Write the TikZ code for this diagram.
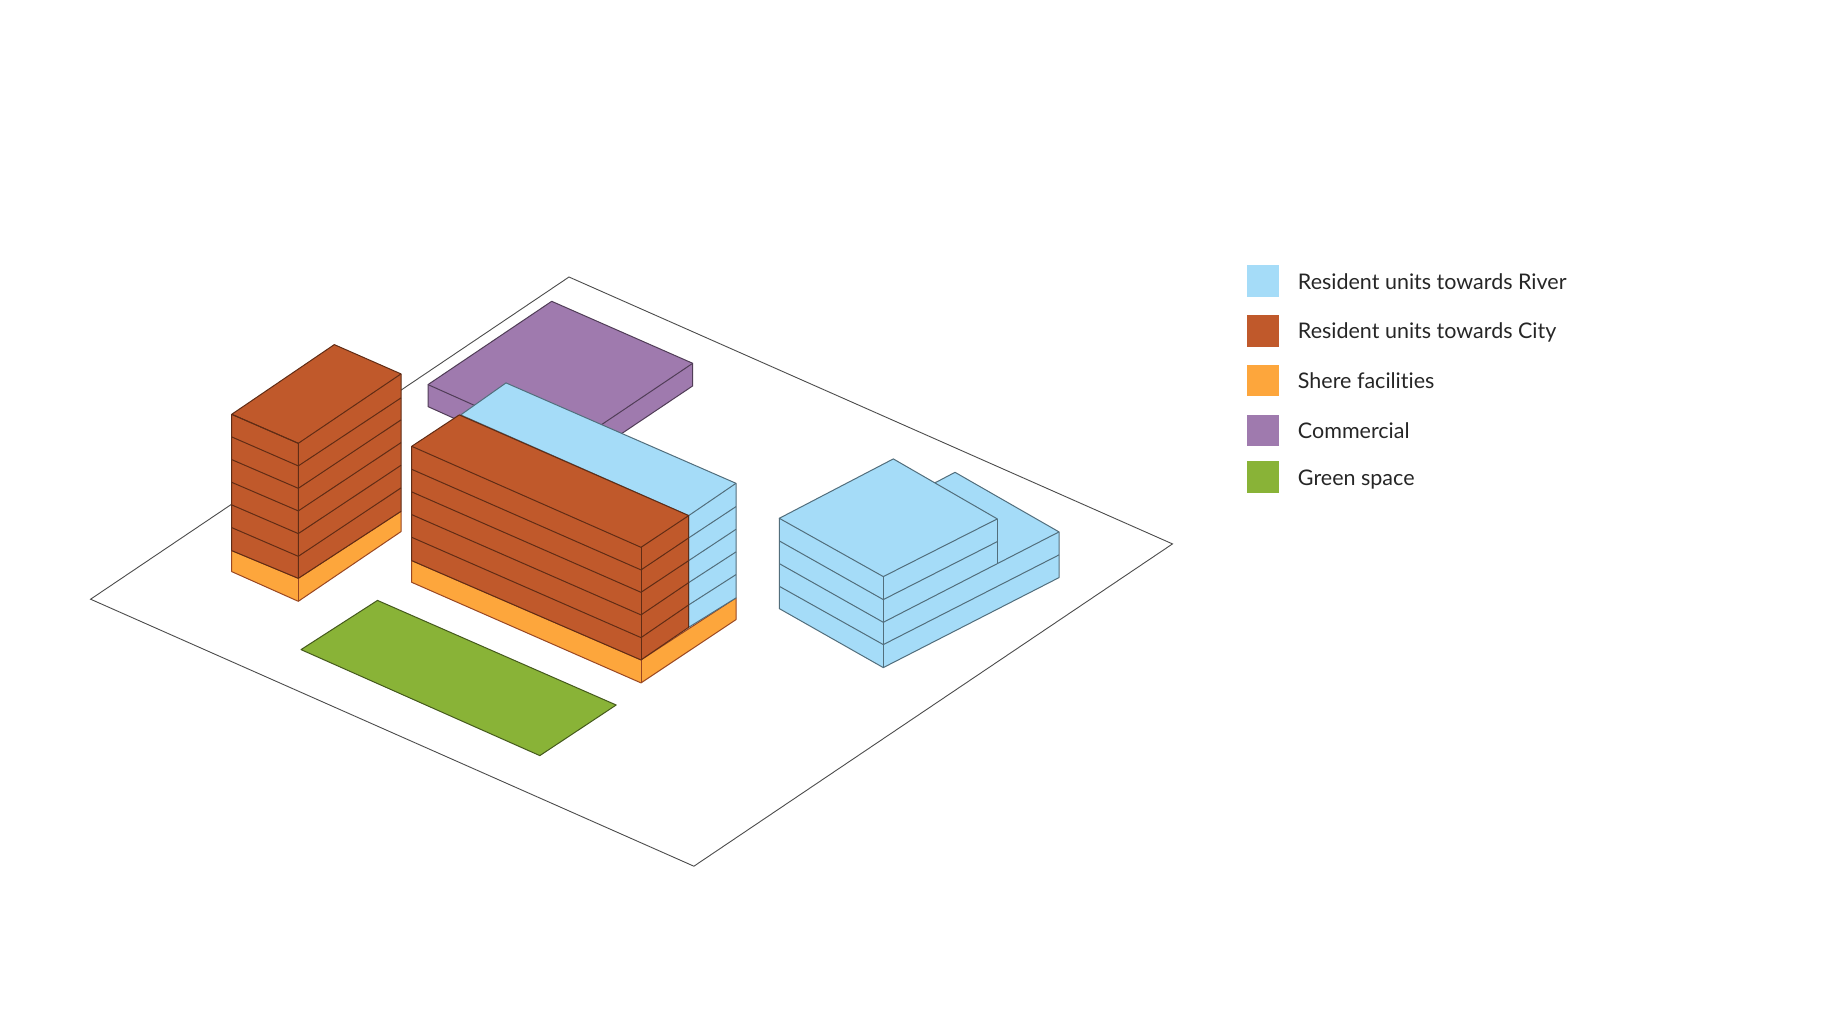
\documentclass[tikz,border=0pt]{standalone}
\usepackage{fontspec}
\setmainfont{Lato}[Ligatures=NoCommon]
\usetikzlibrary{positioning}
\definecolor{riverblue}{HTML}{A5DCF8}
\definecolor{citybrown}{HTML}{C0592B}
\definecolor{shareorange}{HTML}{FDA63C}
\definecolor{shoppurple}{HTML}{9F7AAE}
\definecolor{parkgreen}{HTML}{89B337}
\begin{document}
\begin{tikzpicture}[x=1pt, y=-1pt, node distance=49.75pt, yshift=-0.6pt,
    river/.style = {draw=riverblue!50!black, fill=riverblue, line width=1pt, line join=round},
    city/.style = {draw=citybrown!50!black, fill=citybrown, line width=1pt, line join=round},
    share/.style = {draw=citybrown!80!black, fill=shareorange, line width=1pt, line join=round},
    shop/.style = {draw=shoppurple!50!black, fill=shoppurple, line width=1pt, line join=round},
    park/.style = {draw=parkgreen!50!black, fill=parkgreen, line width=1pt, line join=round},
    swatch/.style = {minimum size=31.7pt, inner sep=0pt},
    legendtext/.style = {font=\fontsize{21.5pt}{24pt}\selectfont, text=black!85, inner sep=0pt, text height=16pt, text depth=0pt}]
    \useasboundingbox (0,-0.6) rectangle (1844,1030.4);
    % site
    \draw[black!70, fill=white, line width=0.9pt] (569,276.4) -- (1172.5,543.3) -- (693.9,865.6) -- (90.6,598.6) -- cycle;
    % commercial
    \draw[shop] (428,384) -- (551.7,300.7) -- (692.7,362.7) -- (692.7,385.3) -- (568,469) -- (428,406) -- cycle;
    \draw[shop] (428,384) -- (568,446.6) -- (692.7,362.7);
    % green space
    \draw[park] (377.5,599.8) -- (616.2,704.4) -- (539.8,755) -- (301,649) -- cycle;
    % left block
    \draw[share] (231.7,550) -- (298.3,577.7) -- (401,510.7) -- (401,531) -- (298.3,600.7) -- (231.7,571) -- cycle;
    \draw[share] (298.3,577.7) -- (298.3,600.7);
    \draw[city] (231.7,413.7) -- (334.3,344) -- (401,373.3) -- (401,510.7) -- (298.3,577.7) -- (231.7,550) -- cycle;
    \draw[city, fill=none] (231.7,413.7) -- (298.3,442.7) -- (298.3,577.7);
    \foreach \yl/\yf/\yr in {413.7/442.7/373.3, 436.3/465.3/397.3, 459/487.7/419.3, 481.7/510.3/442, 504.3/533/464.7, 527/555.7/487.3}
        \draw[city, fill=none] (231.7,\yl) -- (298.3,\yf) -- (401,\yr);
    % middle block
    \draw[share] (411.7,560) -- (641,659.3) -- (736,597.3) -- (736,619) -- (641,682.3) -- (411.7,581.7) -- cycle;
    \draw[share] (641,659.3) -- (641,682.3);
    \draw[river] (460.7,414.3) -- (506,382.3) -- (736,482.7) -- (736,597.3) -- (688.7,626.7) -- (688.7,515) -- cycle;
    \foreach \yb/\yr in {515/482.7, 537.3/506, 560/528.7, 582/551.3, 604.3/574}
        \draw[river, fill=none] (688.7,\yb) -- (736,\yr);
    \draw[city] (411.7,445.7) -- (459.3,414.3) -- (688.7,515) -- (688.7,626.7) -- (641,659.3) -- (411.7,560) -- cycle;
    \foreach \yl/\yf/\yb in {445.7/546.7/515, 468.7/569.3/537.3, 491.3/591.7/560, 514/614.3/582, 536.7/637/604.3}
        \draw[city, fill=none] (411.7,\yl) -- (641,\yf) -- (688.7,\yb);
    \draw[city, fill=none] (641,546.7) -- (641,659.3);
    % right block
    \draw[river] (936,481.7) -- (955,471.7) -- (1059,531.3) -- (1059,577) -- (883.3,667) -- (779.3,608) -- (779.3,517.7) -- cycle;
    \draw[river] (779.3,517.7) -- (893.3,458.3) -- (997.3,518.3) -- (883.3,576) -- cycle;
    \draw[river, fill=none] (997.3,518.3) -- (997.3,562.7);
    \draw[river, fill=none] (883.3,576) -- (883.3,667);
    \draw[river, fill=none] (779.3,540.3) -- (883.3,599) -- (997.3,541);
    \draw[river, fill=none] (779.3,563) -- (883.3,621.7) -- (1059,531.3);
    \draw[river, fill=none] (779.3,585.7) -- (883.3,644) -- (1059,554.3);
    % legend
    \node[swatch, fill=riverblue] (1) at (1263.2,280.5) {};
    \node[swatch, fill=citybrown] (2) [below of = 1] {};
    \node[swatch, fill=shareorange] (3) [below of = 2] {};
    \node[swatch, fill=shoppurple] (4) [below of = 3] {};
    \node[swatch, fill=parkgreen] (5) [below of = 4, yshift=3pt] {};
    \node[legendtext, right=18.5pt of 1] {Resident units towards River};
    \node[legendtext, right=18.5pt of 2] {Resident units towards City};
    \node[legendtext, right=18.5pt of 3] {Shere facilities};
    \node[legendtext, right=18.5pt of 4] {Commercial};
    \node[legendtext, right=18.5pt of 5] {Green space};
\end{tikzpicture}
\end{document}
